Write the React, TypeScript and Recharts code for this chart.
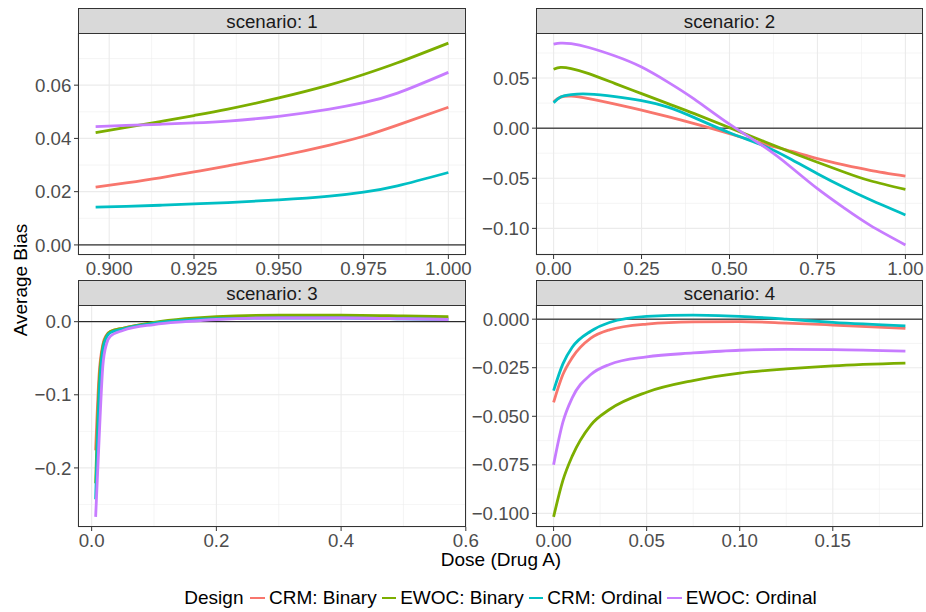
import React from 'react';
import { LineChart, Line, XAxis, YAxis, CartesianGrid, ReferenceLine } from 'recharts';

const FONT = '"Liberation Sans", Arial, Helvetica, sans-serif';

const designs = ['CRM: Binary', 'EWOC: Binary', 'CRM: Ordinal', 'EWOC: Ordinal'];
const designColors = ['#F8766D', '#7CAE00', '#00BFC4', '#C77CFF'];
const seriesKeys = ['crmBinary', 'ewocBinary', 'crmOrdinal', 'ewocOrdinal'];

// Scenario 1
const s1Dose = [0.896, 0.905, 0.915, 0.925, 0.935, 0.95, 0.965, 0.975, 0.985, 1.0];
const s1CrmBinary = [0.0217, 0.0233, 0.0252, 0.0274, 0.0297, 0.0333, 0.0375, 0.0408, 0.045, 0.0517];
const s1EwocBinary = [0.0422, 0.0441, 0.0463, 0.0486, 0.051, 0.0552, 0.0601, 0.064, 0.0684, 0.0758];
const s1CrmOrdinal = [0.0142, 0.0145, 0.0149, 0.0154, 0.0159, 0.0169, 0.0183, 0.0198, 0.0222, 0.0272];
const s1EwocOrdinal = [0.0444, 0.0449, 0.0453, 0.0458, 0.0465, 0.0483, 0.051, 0.0534, 0.057, 0.0648];
const s1XTicks = [0.9, 0.925, 0.95, 0.975, 1.0];
const s1XLabels = ['0.900', '0.925', '0.950', '0.975', '1.000'];
const s1XMinor = [0.9125, 0.9375, 0.9625, 0.9875];
const s1YTicks = [0, 0.02, 0.04, 0.06];
const s1YLabels = ['0.00', '0.02', '0.04', '0.06'];
const s1YMinor = [0.01, 0.03, 0.05, 0.07];

// Scenario 2
const s2Dose = [0, 0.02, 0.05, 0.1, 0.175, 0.25, 0.325, 0.4, 0.5, 0.6, 0.675, 0.75, 0.825, 0.9, 1.0];
const s2CrmBinary = [0.0264, 0.031, 0.032, 0.0295, 0.024, 0.018, 0.0115, 0.0045, -0.0055, -0.016, -0.023, -0.0304, -0.0366, -0.042, -0.0478];
const s2EwocBinary = [0.0588, 0.0607, 0.0595, 0.0545, 0.0445, 0.0345, 0.0245, 0.0145, 0.0005, -0.0135, -0.024, -0.034, -0.0437, -0.0525, -0.0611];
const s2CrmOrdinal = [0.0254, 0.031, 0.0335, 0.034, 0.0315, 0.0275, 0.021, 0.0105, -0.0045, -0.018, -0.031, -0.0454, -0.059, -0.0715, -0.0866];
const s2EwocOrdinal = [0.0838, 0.0849, 0.0843, 0.0805, 0.072, 0.061, 0.046, 0.029, 0.004, -0.019, -0.039, -0.0604, -0.0795, -0.097, -0.1165];
const s2XTicks = [0, 0.25, 0.5, 0.75, 1.0];
const s2XLabels = ['0.00', '0.25', '0.50', '0.75', '1.00'];
const s2XMinor = [0.125, 0.375, 0.625, 0.875];
const s2YTicks = [-0.1, -0.05, 0, 0.05];
const s2YLabels = ['\u22120.10', '\u22120.05', '0.00', '0.05'];
const s2YMinor = [-0.125, -0.075, -0.025, 0.025, 0.075];

// Scenario 3
const s3Dose = [0.0064, 0.012, 0.018, 0.024, 0.03, 0.05, 0.1, 0.15, 0.2, 0.3, 0.4, 0.5, 0.572];
const s3CrmBinary = [-0.176, -0.072, -0.031, -0.018, -0.0135, -0.009, -0.002, 0.002, 0.004, 0.006, 0.006, 0.005, 0.005];
const s3EwocBinary = [-0.221, -0.085, -0.034, -0.019, -0.0135, -0.009, -0.001, 0.004, 0.007, 0.009, 0.009, 0.008, 0.007];
const s3CrmOrdinal = [-0.243, -0.1, -0.038, -0.021, -0.015, -0.01, -0.002, 0.002, 0.004, 0.005, 0.005, 0.004, 0.003];
const s3EwocOrdinal = [-0.267, -0.16, -0.06, -0.03, -0.02, -0.012, -0.004, 0.0, 0.003, 0.005, 0.005, 0.004, 0.003];
const s3XTicks = [0, 0.2, 0.4, 0.6];
const s3XLabels = ['0.0', '0.2', '0.4', '0.6'];
const s3XMinor = [0.1, 0.3, 0.5];
const s3YTicks = [-0.2, -0.1, 0];
const s3YLabels = ['\u22120.2', '\u22120.1', '0.0'];
const s3YMinor = [-0.25, -0.15, -0.05];

// Scenario 4
const s4Dose = [0, 0.005, 0.01, 0.02, 0.03, 0.05, 0.075, 0.1, 0.125, 0.15, 0.189];
const s4CrmBinary = [-0.0428, -0.0285, -0.0198, -0.0098, -0.0055, -0.0025, -0.0014, -0.0013, -0.002, -0.003, -0.0047];
const s4EwocBinary = [-0.1018, -0.083, -0.0705, -0.0545, -0.0465, -0.0376, -0.0316, -0.0278, -0.0256, -0.024, -0.0226];
const s4CrmOrdinal = [-0.0368, -0.023, -0.0145, -0.0062, -0.0017, 0.0014, 0.0021, 0.0014, 0.0, -0.0017, -0.0035];
const s4EwocOrdinal = [-0.0749, -0.053, -0.0405, -0.0285, -0.0233, -0.0194, -0.0174, -0.016, -0.0156, -0.0157, -0.0165];
const s4XTicks = [0, 0.05, 0.1, 0.15];
const s4XLabels = ['0.00', '0.05', '0.10', '0.15'];
const s4XMinor = [0.025, 0.075, 0.125, 0.175];
const s4YTicks = [-0.1, -0.075, -0.05, -0.025, 0];
const s4YLabels = ['\u22120.100', '\u22120.075', '\u22120.050', '\u22120.025', '0.000'];
const s4YMinor = [-0.0875, -0.0625, -0.0375, -0.0125];

type PanelDef = {
  title: string;
  dose: number[];
  series: number[][];
  xTicks: number[];
  xLabels: string[];
  xMinor: number[];
  yTicks: number[];
  yLabels: string[];
  yMinor: number[];
  left: number;
  right: number;
  top: number;
  bottom: number;
  yAxisW: number;
  padRight: number;
  curve: 'natural' | 'monotone';
};

const X_AXIS_H = 30;
const STRIP_H = 25;

const panels: PanelDef[] = [
  {
    title: 'scenario: 1', dose: s1Dose,
    series: [s1CrmBinary, s1EwocBinary, s1CrmOrdinal, s1EwocOrdinal],
    xTicks: s1XTicks, xLabels: s1XLabels, xMinor: s1XMinor,
    yTicks: s1YTicks, yLabels: s1YLabels, yMinor: s1YMinor,
    left: 78, right: 466, top: 33, bottom: 255, yAxisW: 78, padRight: 30, curve: 'natural',
  },
  {
    title: 'scenario: 2', dose: s2Dose,
    series: [s2CrmBinary, s2EwocBinary, s2CrmOrdinal, s2EwocOrdinal],
    xTicks: s2XTicks, xLabels: s2XLabels, xMinor: s2XMinor,
    yTicks: s2YTicks, yLabels: s2YLabels, yMinor: s2YMinor,
    left: 536, right: 923, top: 33, bottom: 255, yAxisW: 66, padRight: 3, curve: 'natural',
  },
  {
    title: 'scenario: 3', dose: s3Dose,
    series: [s3CrmBinary, s3EwocBinary, s3CrmOrdinal, s3EwocOrdinal],
    xTicks: s3XTicks, xLabels: s3XLabels, xMinor: s3XMinor,
    yTicks: s3YTicks, yLabels: s3YLabels, yMinor: s3YMinor,
    left: 78, right: 466, top: 305, bottom: 527, yAxisW: 78, padRight: 30, curve: 'monotone',
  },
  {
    title: 'scenario: 4', dose: s4Dose,
    series: [s4CrmBinary, s4EwocBinary, s4CrmOrdinal, s4EwocOrdinal],
    xTicks: s4XTicks, xLabels: s4XLabels, xMinor: s4XMinor,
    yTicks: s4YTicks, yLabels: s4YLabels, yMinor: s4YMinor,
    left: 536, right: 923, top: 305, bottom: 527, yAxisW: 66, padRight: 3, curve: 'monotone',
  },
];

function expand(values: number[]): [number, number] {
  const lo = Math.min(...values);
  const hi = Math.max(...values);
  const r = hi - lo;
  return [lo - 0.05 * r, hi + 0.05 * r];
}

function labelFor(ticks: number[], labels: string[], v: number): string {
  let best = 0;
  let bd = Infinity;
  ticks.forEach((t, i) => {
    const d = Math.abs(t - v);
    if (d < bd) { bd = d; best = i; }
  });
  return labels[best];
}

function Panel({ p }: { p: PanelDef }) {
  const data = p.dose.map((x, i) => {
    const row: Record<string, number> = { x };
    seriesKeys.forEach((k, j) => { row[k] = p.series[j][i]; });
    return row;
  });
  const xd = expand(p.dose);
  const yd = expand([...p.series.flat(), 0]);
  const plotW = p.right - p.left;
  const plotH = p.bottom - p.top;
  const tickStyle = { fill: '#4D4D4D', fontSize: 18.7, fontFamily: FONT };
  return (
    <div style={{ position: 'absolute', left: p.left - p.yAxisW, top: p.top }}>
      <LineChart width={p.yAxisW + plotW + p.padRight} height={plotH + X_AXIS_H} data={data} margin={{ top: 0, right: p.padRight, bottom: 0, left: 0 }}>
        <XAxis xAxisId="minor" dataKey="x" type="number" domain={xd} ticks={p.xMinor} hide allowDataOverflow />
        <YAxis yAxisId="minor" type="number" domain={yd} ticks={p.yMinor} hide allowDataOverflow />
        <CartesianGrid xAxisId="minor" yAxisId="minor" stroke="#EFEFEF" strokeWidth={0.6} />
        <CartesianGrid stroke="#EBEBEB" strokeWidth={1.1} />
        <XAxis
          dataKey="x" type="number" domain={xd} ticks={p.xTicks} interval={0} allowDataOverflow
          height={X_AXIS_H} tickSize={4} tickMargin={2.7} axisLine={false}
          tickLine={{ stroke: '#333333', strokeWidth: 1 }} tick={tickStyle}
          tickFormatter={(v: number) => labelFor(p.xTicks, p.xLabels, v)}
        />
        <YAxis
          type="number" domain={yd} ticks={p.yTicks} interval={0} allowDataOverflow
          width={p.yAxisW} tickSize={4} tickMargin={2.6} axisLine={false}
          tickLine={{ stroke: '#333333', strokeWidth: 1 }} tick={tickStyle}
          tickFormatter={(v: number) => labelFor(p.yTicks, p.yLabels, v)}
        />
        <ReferenceLine y={0} stroke="#000000" strokeWidth={1} />
        {seriesKeys.map((k, j) => (
          <Line
            key={k} dataKey={k} type={p.curve} stroke={designColors[j]} strokeWidth={2.8}
            dot={false} isAnimationActive={false} activeDot={false}
          />
        ))}
      </LineChart>
    </div>
  );
}

export default function App() {
  return (
    <div style={{ position: 'absolute', left: 0, top: 0, width: 926, height: 612, background: '#FFFFFF', fontFamily: FONT, overflow: 'hidden' }}>
      {panels.map((p) => <Panel key={p.title} p={p} />)}
      <svg width={926} height={612} style={{ position: 'absolute', left: 0, top: 0, pointerEvents: 'none' }}>
        {panels.map((p) => (
          <g key={p.title}>
            <rect x={p.left + 0.5} y={p.top - STRIP_H + 0.5} width={p.right - p.left - 1} height={STRIP_H} fill="#D9D9D9" stroke="#333333" strokeWidth={1} />
            <rect x={p.left + 0.5} y={p.top + 0.5} width={p.right - p.left - 1} height={p.bottom - p.top - 1} fill="none" stroke="#333333" strokeWidth={1} />
            <text x={(p.left + p.right) / 2} y={p.top - 4.8} textAnchor="middle" fontSize={18.7} fill="#1A1A1A" fontFamily={FONT}>{p.title}</text>
          </g>
        ))}
        <text x={501} y={566} textAnchor="middle" fontSize={19} fill="#000000" fontFamily={FONT}>Dose (Drug A)</text>
        <text x={0} y={0} transform="translate(27,280) rotate(-90)" textAnchor="middle" fontSize={19} fill="#000000" fontFamily={FONT}>Average Bias</text>
      </svg>
      <div style={{ position: 'absolute', left: 78, top: 587, width: 845, height: 22, display: 'flex', justifyContent: 'center', alignItems: 'center', fontSize: 19, lineHeight: '22px', color: '#000000', whiteSpace: 'nowrap' }}>
        <span style={{ marginRight: 7 }}>Design</span>
        {designs.map((d, j) => (
          <span key={d} style={{ display: 'flex', alignItems: 'center', marginRight: j < designs.length - 1 ? 5 : 0 }}>
            <span style={{ display: 'inline-block', width: 14.5, height: 2.8, background: designColors[j], marginRight: 4 }} />
            <span>{d}</span>
          </span>
        ))}
      </div>
    </div>
  );
}
